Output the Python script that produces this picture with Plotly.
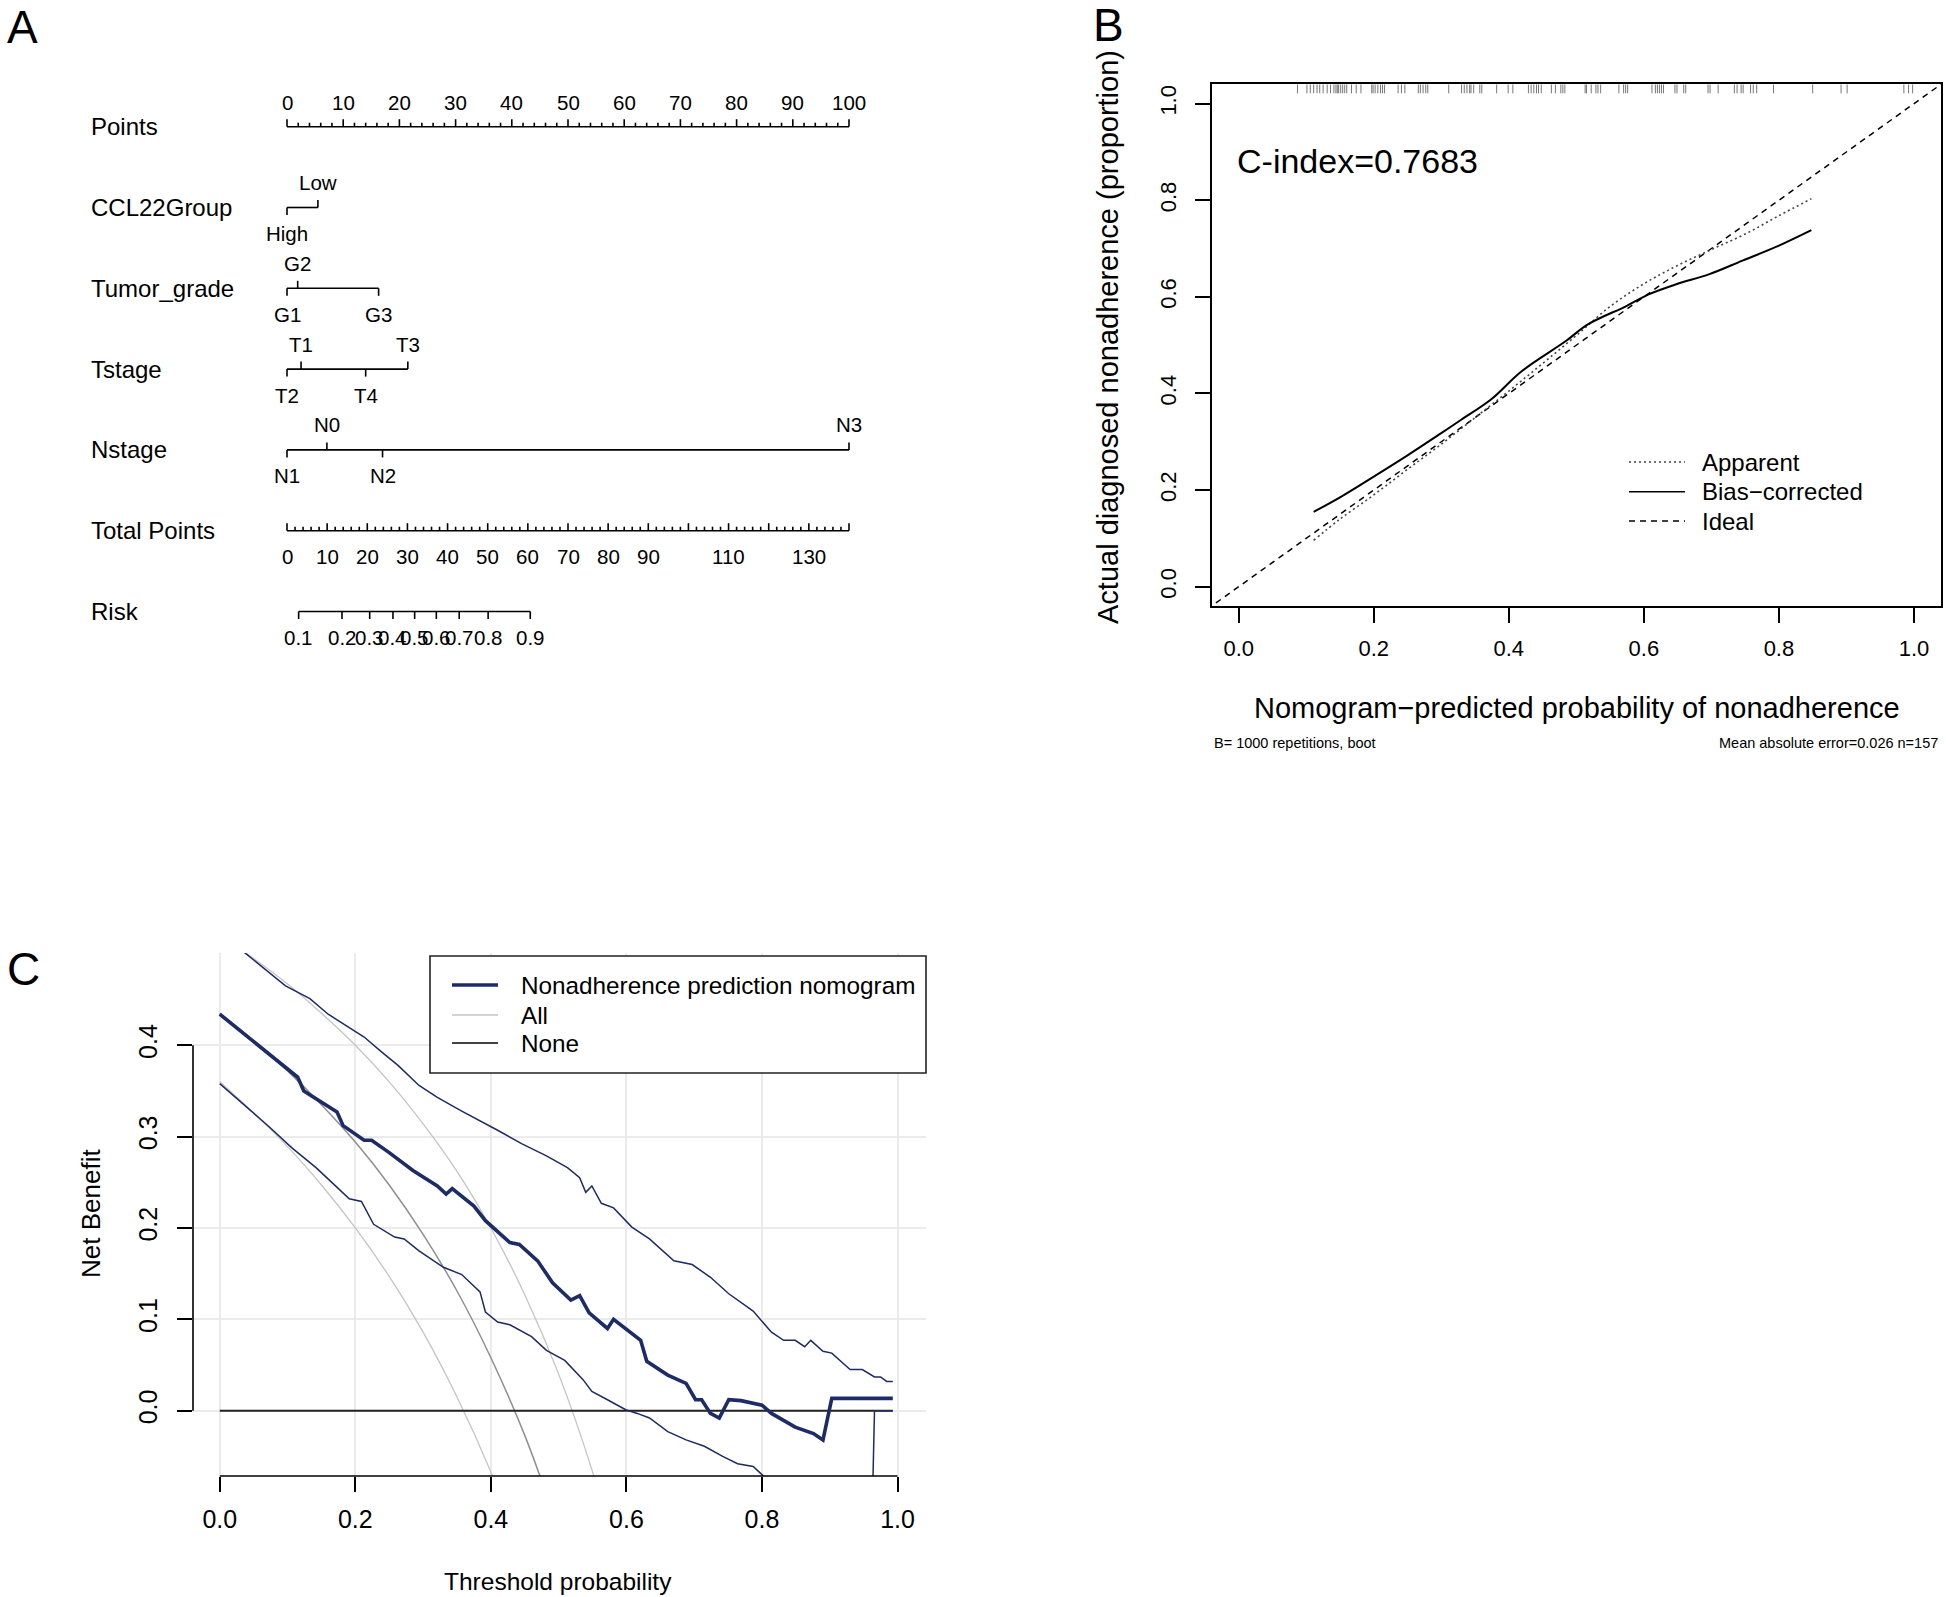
import plotly.graph_objects as go

W, H = 1946, 1597
FONT = "Liberation Sans, Arial, sans-serif"

# ---------------- Panel A : nomogram data ----------------
row_names = ["Points", "CCL22Group", "Tumor_grade", "Tstage", "Nstage", "Total Points", "Risk"]
points_max = 100
ccl22_levels = ["High", "Low"]
ccl22_points = [0, 5.5]
tumor_levels = ["G1", "G2", "G3"]
tumor_points = [0, 1.9, 16.3]
tstage_levels = ["T2", "T1", "T4", "T3"]
tstage_points = [0, 2.5, 14.0, 21.5]
nstage_levels = ["N1", "N0", "N2", "N3"]
nstage_points = [0, 7.1, 17.0, 100]
total_points_max = 140
total_points_labels = [0, 10, 20, 30, 40, 50, 60, 70, 80, 90, 110, 130]
risk_values = [0.1, 0.2, 0.3, 0.4, 0.5, 0.6, 0.7, 0.8, 0.9]
risk_labels = ["0.1", "0.2", "0.3", "0.4", "0.5", "0.6", "0.7", "0.8", "0.9"]
risk_total_points = [2.9, 13.7, 20.6, 26.4, 31.8, 37.2, 42.9, 50.1, 60.6]

# ---------------- Panel B : calibration data ----------------
apparent_x = [0.111, 0.15, 0.2, 0.25, 0.3, 0.35, 0.4, 0.45, 0.5, 0.55, 0.6, 0.65, 0.7, 0.75, 0.8, 0.848]
apparent_y = [0.096, 0.14, 0.19, 0.243, 0.295, 0.35, 0.405, 0.462, 0.52, 0.58, 0.627, 0.665, 0.698, 0.73, 0.768, 0.803]
bias_x = [0.111, 0.15, 0.2, 0.25, 0.3, 0.33, 0.374, 0.419, 0.485, 0.517, 0.574, 0.607, 0.648, 0.697, 0.746, 0.8, 0.848]
bias_y = [0.155, 0.185, 0.228, 0.272, 0.318, 0.346, 0.388, 0.446, 0.509, 0.543, 0.581, 0.605, 0.626, 0.647, 0.675, 0.706, 0.738]
ideal_x = [-0.1, 1.1]
ideal_y = [-0.1, 1.1]
rug_x = [0.087, 0.101, 0.106, 0.111, 0.116, 0.120, 0.125, 0.131, 0.136, 0.141, 0.144, 0.146, 0.148,
         0.151, 0.154, 0.157, 0.160, 0.167, 0.174, 0.181, 0.197, 0.199, 0.202, 0.206, 0.210, 0.213,
         0.216, 0.236, 0.241, 0.246, 0.266, 0.269, 0.273, 0.277, 0.280, 0.311, 0.330, 0.334, 0.338,
         0.342, 0.344, 0.348, 0.357, 0.360, 0.382, 0.399, 0.406, 0.429, 0.433, 0.437, 0.441, 0.444,
         0.448, 0.463, 0.469, 0.477, 0.480, 0.483, 0.513, 0.515, 0.522, 0.529, 0.532, 0.536, 0.563,
         0.570, 0.573, 0.576, 0.612, 0.617, 0.620, 0.623, 0.626, 0.629, 0.646, 0.649, 0.659, 0.662,
         0.695, 0.698, 0.710, 0.734, 0.738, 0.744, 0.747, 0.758, 0.762, 0.767, 0.792, 0.850, 0.892,
         0.901, 0.985, 0.992, 0.998]
c_index_text = "C-index=0.7683"
note_left = "B= 1000 repetitions, boot"
note_right = "Mean absolute error=0.026 n=157"

# ---------------- Panel C : decision curve data ----------------
nom_x = [0.000, 0.030, 0.060, 0.090, 0.115, 0.124, 0.150, 0.173, 0.182, 0.213, 0.224, 0.249, 0.285,
         0.321, 0.334, 0.343, 0.375, 0.392, 0.428, 0.442, 0.469, 0.491, 0.518, 0.531, 0.545, 0.572,
         0.581, 0.621, 0.630, 0.661, 0.688, 0.702, 0.711, 0.724, 0.737, 0.751, 0.769, 0.800, 0.814,
         0.849, 0.876, 0.890, 0.903, 0.993]
nom_y = [0.434, 0.416, 0.398, 0.380, 0.365, 0.350, 0.338, 0.327, 0.312, 0.296, 0.296, 0.283, 0.263,
         0.246, 0.237, 0.243, 0.224, 0.208, 0.184, 0.182, 0.164, 0.140, 0.121, 0.126, 0.107, 0.090,
         0.100, 0.077, 0.054, 0.039, 0.030, 0.012, 0.012, -0.003, -0.008, 0.012, 0.011, 0.006, -0.003,
         -0.018, -0.025, -0.032, 0.0135, 0.0135]
upper_x = [0.000, 0.039, 0.097, 0.133, 0.160, 0.186, 0.213, 0.240, 0.263, 0.294, 0.321, 0.357, 0.375,
           0.410, 0.446, 0.482, 0.513, 0.531, 0.540, 0.549, 0.563, 0.581, 0.608, 0.634, 0.670, 0.697,
           0.724, 0.751, 0.787, 0.814, 0.832, 0.849, 0.863, 0.872, 0.890, 0.903, 0.930, 0.948, 0.966,
           0.975, 0.984, 0.993]
upper_y = [0.522, 0.500, 0.465, 0.451, 0.434, 0.422, 0.409, 0.392, 0.378, 0.356, 0.343, 0.328, 0.321,
           0.307, 0.292, 0.279, 0.266, 0.255, 0.239, 0.246, 0.227, 0.222, 0.201, 0.188, 0.164, 0.160,
           0.146, 0.128, 0.109, 0.086, 0.077, 0.077, 0.070, 0.077, 0.065, 0.063, 0.045, 0.045, 0.037,
           0.037, 0.032, 0.032]
lower_x = [0.000, 0.043, 0.074, 0.106, 0.142, 0.168, 0.191, 0.209, 0.227, 0.258, 0.272, 0.294, 0.330,
           0.357, 0.384, 0.392, 0.410, 0.428, 0.460, 0.482, 0.509, 0.536, 0.549, 0.572, 0.599, 0.616,
           0.634, 0.661, 0.688, 0.715, 0.742, 0.764, 0.787, 0.800, 0.830, 0.960, 0.966, 0.993]
lower_y = [0.358, 0.330, 0.310, 0.288, 0.266, 0.248, 0.232, 0.229, 0.204, 0.190, 0.188, 0.175, 0.157,
           0.149, 0.130, 0.108, 0.097, 0.094, 0.081, 0.066, 0.055, 0.034, 0.021, 0.012, 0.001, -0.003,
           -0.008, -0.023, -0.032, -0.039, -0.050, -0.058, -0.061, -0.070, -0.090, -0.200, 0.000, 0.000]
all_t = [0.00, 0.05, 0.10, 0.15, 0.20, 0.25, 0.30, 0.35, 0.40, 0.45, 0.50, 0.55, 0.60]
all_mid = [0.435, 0.405, 0.372, 0.335, 0.294, 0.247, 0.193, 0.131, 0.058, -0.027, -0.130]
all_lo = [0.360, 0.326, 0.289, 0.247, 0.200, 0.147, 0.086, 0.015, -0.067, -0.164]
all_hi = [0.520, 0.495, 0.467, 0.435, 0.400, 0.360, 0.314, 0.262, 0.200, 0.127, 0.040, -0.067, -0.200]
none_x = [0.0, 0.993]
none_y = [0.0, 0.0]
legend_c = ["Nonadherence prediction nomogram", "All", "None"]
legend_b = ["Apparent", "Bias\u2212corrected", "Ideal"]

NAVY = "#1d2b66"

# ---------------- helpers ----------------
def pxx(x):
    return x / W

def pyy(y):
    return 1 - y / H

fig = go.Figure()
ann = []
shapes = []

def text(x, y, s, size, xanchor="center", yanchor="middle", angle=0, xref="paper", yref="paper",
         xshift=0, yshift=0, color="black"):
    ann.append(dict(x=x, y=y, xref=xref, yref=yref, text=s, showarrow=False, xanchor=xanchor,
                    yanchor=yanchor, textangle=angle, xshift=xshift, yshift=yshift,
                    font=dict(family=FONT, size=size, color=color)))

# ---------------- Panel A layout (points axis / row axis) ----------------
A_X0, A_PX_PER_PT = 287.0, 5.62
A_ROW0, A_ROW_STEP = 126.7, 80.8
A_DOM_X = (0.0, 0.52)
A_DOM_YPX = (0.0, 700.0)
ax_range = [(A_DOM_X[0] * W - A_X0) / A_PX_PER_PT, (A_DOM_X[1] * W - A_X0) / A_PX_PER_PT]
ay_range = [(A_DOM_YPX[1] - A_ROW0) / A_ROW_STEP, (A_DOM_YPX[0] - A_ROW0) / A_ROW_STEP]
tp_scale = points_max / total_points_max
major = 7.5 / A_ROW_STEP
minor = 4.0 / A_ROW_STEP
SMALL = 20.5

sx, sy = [], []

def seg(x0, y0, x1, y1):
    sx.extend([x0, x1, None])
    sy.extend([y0, y1, None])

# Points row
seg(0, 0, points_max, 0)
for v in range(0, points_max + 1, 2):
    seg(v, 0, v, -(major if v % 10 == 0 else minor))
for v in range(0, points_max + 1, 10):
    text(v, 0, str(v), SMALL, xref="x", yref="y", yshift=24)

# variable rows
variables = [(ccl22_levels, ccl22_points), (tumor_levels, tumor_points),
             (tstage_levels, tstage_points), (nstage_levels, nstage_points)]
for r, (levs, pts) in enumerate(variables, start=1):
    seg(min(pts), r, max(pts), r)
    order = sorted(range(len(pts)), key=lambda i: pts[i])
    for k, i in enumerate(order):
        above = (k % 2 == 1)
        seg(pts[i], r, pts[i], r - major if above else r + major)
        text(pts[i], r, levs[i], SMALL, xref="x", yref="y", yshift=25 if above else -26)

# Total points row
r = 5
seg(0, r, total_points_max * tp_scale, r)
for v in range(0, total_points_max + 1, 2):
    seg(v * tp_scale, r, v * tp_scale, r - (major if v % 10 == 0 else minor))
for v in total_points_labels:
    text(v * tp_scale, r, str(v), SMALL, xref="x", yref="y", yshift=-26)

# Risk row
r = 6
seg(risk_total_points[0] * tp_scale, r, risk_total_points[-1] * tp_scale, r)
for v, lab in zip(risk_total_points, risk_labels):
    seg(v * tp_scale, r, v * tp_scale, r + major)
    text(v * tp_scale, r, lab, SMALL, xref="x", yref="y", yshift=-26)

fig.add_trace(go.Scatter(x=sx, y=sy, mode="lines", line=dict(color="black", width=1.6),
                         xaxis="x", yaxis="y", hoverinfo="skip"))
for i, name in enumerate(row_names):
    text(pxx(89), i, name, 24, xanchor="left", yref="y")

# ---------------- Panel B ----------------
B_RANGE = [-0.04, 1.04]
fig.add_trace(go.Scatter(x=ideal_x, y=ideal_y, mode="lines", xaxis="x2", yaxis="y2",
                         line=dict(color="black", width=1.5, dash="6px,5px")))
fig.add_trace(go.Scatter(x=apparent_x, y=apparent_y, mode="lines", xaxis="x2", yaxis="y2",
                         line=dict(color="#444444", width=1.6, dash="2px,3px", shape="spline")))
fig.add_trace(go.Scatter(x=bias_x, y=bias_y, mode="lines", xaxis="x2", yaxis="y2",
                         line=dict(color="black", width=2, shape="spline")))
rx, ry = [], []
rug_len = 9.0 / 482.7
for v in rug_x:
    rx.extend([v, v, None])
    ry.extend([B_RANGE[1], B_RANGE[1] - rug_len, None])
fig.add_trace(go.Scatter(x=rx, y=ry, mode="lines", xaxis="x2", yaxis="y2",
                         line=dict(color="#777777", width=1)))

text(pxx(1235), pyy(161), c_index_text, 34, xanchor="left")
text(pxx(1577), pyy(708), "Nomogram\u2212predicted probability of nonadherence", 29)
text(pxx(1108), pyy(337), "Actual diagnosed nonadherence (proportion)", 29, angle=-90)
text(pxx(1212), pyy(743), note_left, 14.5, xanchor="left")
text(pxx(1940), pyy(743), note_right, 14.5, xanchor="right")
leg_b_y = [462, 491.7, 521]
leg_b_dash = ["2px,3px", "solid", "6px,5px"]
leg_b_col = ["#444444", "black", "black"]
for lab, yy, d, c in zip(legend_b, leg_b_y, leg_b_dash, leg_b_col):
    shapes.append(dict(type="line", xref="paper", yref="paper", x0=pxx(1629), x1=pxx(1685),
                       y0=pyy(yy), y1=pyy(yy), line=dict(color=c, width=1.6, dash=d)))
    text(pxx(1700), pyy(yy), lab, 24, xanchor="left")

# ---------------- Panel C ----------------
C_XR = [-0.0395, 1.042]
C_YR = [-0.0715, 0.501]
C_DOM_XPX = (193.0, 926.0)
C_DOM_YPX = (953.0, 1476.0)
fig.add_trace(go.Scatter(x=all_t[:len(all_lo)], y=all_lo, mode="lines", xaxis="x3", yaxis="y3",
                         line=dict(color="#c4c4c4", width=1.3, shape="spline")))
fig.add_trace(go.Scatter(x=all_t[:len(all_hi)], y=all_hi, mode="lines", xaxis="x3", yaxis="y3",
                         line=dict(color="#c4c4c4", width=1.3, shape="spline")))
fig.add_trace(go.Scatter(x=all_t[:len(all_mid)], y=all_mid, mode="lines", xaxis="x3", yaxis="y3",
                         line=dict(color="#8f8f8f", width=1.5, shape="spline")))
fig.add_trace(go.Scatter(x=none_x, y=none_y, mode="lines", xaxis="x3", yaxis="y3",
                         line=dict(color="#222222", width=2)))
fig.add_trace(go.Scatter(x=upper_x, y=upper_y, mode="lines", xaxis="x3", yaxis="y3",
                         line=dict(color=NAVY, width=1.5)))
fig.add_trace(go.Scatter(x=lower_x, y=lower_y, mode="lines", xaxis="x3", yaxis="y3",
                         line=dict(color=NAVY, width=1.5)))
fig.add_trace(go.Scatter(x=nom_x, y=nom_y, mode="lines", xaxis="x3", yaxis="y3",
                         line=dict(color=NAVY, width=3.6)))

def cx(v):
    return pxx(C_DOM_XPX[0] + (v - C_XR[0]) / (C_XR[1] - C_XR[0]) * (C_DOM_XPX[1] - C_DOM_XPX[0]))

def cy(v):
    return pyy(C_DOM_YPX[1] - (v - C_YR[0]) / (C_YR[1] - C_YR[0]) * (C_DOM_YPX[1] - C_DOM_YPX[0]))

# R-style axis lines
shapes.append(dict(type="line", xref="paper", yref="paper", x0=cx(0), x1=cx(1), y0=cy(C_YR[0]),
                   y1=cy(C_YR[0]), line=dict(color="black", width=1.6)))
shapes.append(dict(type="line", xref="paper", yref="paper", x0=cx(C_XR[0]), x1=cx(C_XR[0]), y0=cy(0),
                   y1=cy(0.4), line=dict(color="black", width=1.6)))
# legend box
shapes.append(dict(type="rect", xref="paper", yref="paper", x0=pxx(430), x1=pxx(926), y0=pyy(1073),
                   y1=pyy(956), line=dict(color="#222222", width=1.6), fillcolor="white", layer="above"))
leg_c_y = [985, 1015, 1043]
leg_c_col = [NAVY, "#c4c4c4", "#444444"]
leg_c_w = [3.6, 1.5, 2]
for lab, yy, c, w in zip(legend_c, leg_c_y, leg_c_col, leg_c_w):
    shapes.append(dict(type="line", xref="paper", yref="paper", x0=pxx(452), x1=pxx(498),
                       y0=pyy(yy), y1=pyy(yy), line=dict(color=c, width=w), layer="above"))
    text(pxx(519), pyy(yy), lab, 24.3, xanchor="left")

text(pxx(558), pyy(1581), "Threshold probability", 24.5)
text(pxx(91), pyy(1214), "Net Benefit", 26, angle=-90)

# panel letters
text(pxx(22), pyy(27), "A", 46)
text(pxx(1108), pyy(25), "B", 46)
text(pxx(23), pyy(969), "C", 46)

# ---------------- layout ----------------
tick_x_vals = [0, 0.2, 0.4, 0.6, 0.8, 1.0]
tick_x_text = ["0.0", "0.2", "0.4", "0.6", "0.8", "1.0"]
tick_c_y = [0, 0.1, 0.2, 0.3, 0.4]
tick_c_ytext = ["0.0", "0.1", "0.2", "0.3", "0.4"]

fig.update_layout(
    width=W, height=H, margin=dict(l=0, r=0, t=0, b=0),
    paper_bgcolor="white", plot_bgcolor="rgba(0,0,0,0)", showlegend=False,
    font=dict(family=FONT, color="black"),
    xaxis=dict(domain=list(A_DOM_X), range=ax_range, visible=False, fixedrange=True),
    yaxis=dict(domain=[pyy(A_DOM_YPX[1]), pyy(A_DOM_YPX[0])], range=ay_range, visible=False),
    xaxis2=dict(domain=[pxx(1211.7), pxx(1941)], range=B_RANGE, anchor="y2",
                showline=True, mirror=True, linecolor="black", linewidth=1.6,
                ticks="outside", ticklen=15, tickwidth=1.5, tickcolor="black",
                tickvals=tick_x_vals, ticktext=tick_x_text, tickfont=dict(size=22),
                ticklabelstandoff=7, showgrid=False, zeroline=False),
    yaxis2=dict(domain=[pyy(606), pyy(84.3)], range=B_RANGE, anchor="x2",
                showline=True, mirror=True, linecolor="black", linewidth=1.6,
                ticks="outside", ticklen=15, tickwidth=1.5, tickcolor="black",
                tickvals=tick_x_vals, ticktext=tick_x_text, tickfont=dict(size=22), tickangle=-90,
                ticklabelstandoff=10, showgrid=False, zeroline=False),
    xaxis3=dict(domain=[pxx(C_DOM_XPX[0]), pxx(C_DOM_XPX[1])], range=C_XR, anchor="y3",
                showline=False, ticks="outside", ticklen=15, tickwidth=1.5, tickcolor="black",
                tickvals=tick_x_vals, ticktext=tick_x_text, tickfont=dict(size=25),
                ticklabelstandoff=6, showgrid=True, gridcolor="#ebebeb", gridwidth=1.5,
                zeroline=False),
    yaxis3=dict(domain=[pyy(C_DOM_YPX[1]), pyy(C_DOM_YPX[0])], range=C_YR, anchor="x3",
                showline=False, ticks="outside", ticklen=15, tickwidth=1.5, tickcolor="black",
                tickvals=tick_c_y, ticktext=tick_c_ytext, tickfont=dict(size=25), tickangle=-90,
                ticklabelstandoff=10, showgrid=True, gridcolor="#ebebeb", gridwidth=1.5,
                zeroline=False),
    annotations=ann, shapes=shapes,
)

fig.write_html("out.html", config={"displayModeBar": False},
               post_script="document.body.style.margin='0';document.documentElement.style.overflow='hidden';")
